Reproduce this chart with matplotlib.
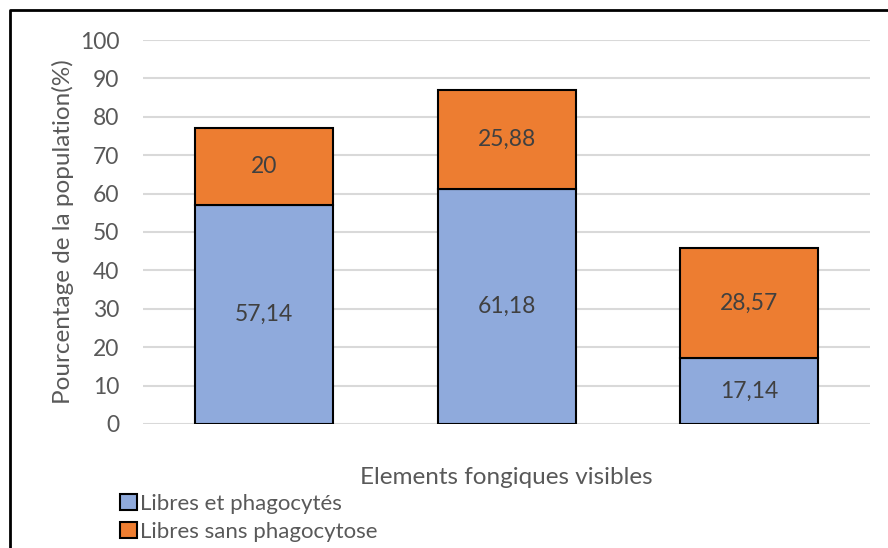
import matplotlib
matplotlib.use('Agg')
from matplotlib import pyplot as plt
from matplotlib.patches import Patch
from matplotlib.lines import Line2D
import numpy as np

categories = ['', '', '']
series_names = ['Libres et phagocytés', 'Libres sans phagocytose']
libres_phago = [57.14, 61.18, 17.14]
libres_sans = [20, 25.88, 28.57]
labels_phago = ['57,14', '61,18', '17,14']
labels_sans = ['20', '25,88', '28,57']
yticks = [0, 10, 20, 30, 40, 50, 60, 70, 80, 90, 100]

plt.rcParams['font.family'] = ['Lato', 'DejaVu Sans']
txt = '#595959'
blue = '#8FAADC'
orange = '#ED7D31'
fs = 16.5

fig = plt.figure(figsize=(8.88, 5.48), dpi=100)
ax = fig.add_axes([0.161, 0.2263, 0.819, 0.7007])

x = np.arange(len(categories))
b1 = ax.bar(x, libres_phago, width=0.57, color=blue, edgecolor='black', linewidth=1.5, zorder=3)
b2 = ax.bar(x, libres_sans, width=0.57, bottom=libres_phago, color=orange, edgecolor='black', linewidth=1.5, zorder=3)
ax.bar_label(b1, labels=labels_phago, label_type='center', fontsize=fs, color='#404040')
ax.bar_label(b2, labels=labels_sans, label_type='center', fontsize=fs, color='#404040')

ax.set_xlim(-0.5, 2.5)
ax.set_ylim(0, 100)
ax.set_yticks(yticks)
ax.set_xticks([])
ax.yaxis.grid(True, color='#d9d9d9', linewidth=1.5, zorder=0)
ax.set_axisbelow(True)
for s in ax.spines.values():
    s.set_visible(False)
ax.tick_params(axis='y', length=0, pad=17, labelsize=fs, labelcolor=txt)
ax.set_ylabel('Pourcentage de la population(%)', fontsize=17.5, color=txt, labelpad=4)
ax.set_xlabel('Elements fongiques visibles', fontsize=17.5, color=txt, labelpad=31)

handles = [Patch(facecolor=blue, edgecolor='black', linewidth=1.5),
           Patch(facecolor=orange, edgecolor='black', linewidth=1.5)]
fig.legend(handles, series_names, loc='lower left', bbox_to_anchor=(0.125, -0.005),
           frameon=False, fontsize=16, labelcolor=txt, handlelength=0.75, handleheight=0.75,
           handletextpad=0.15, labelspacing=0.35, borderaxespad=0)

# outer frame of the chart (left and top edges visible)
fig.add_artist(Line2D([0.011, 0.011, 1.0], [0.0, 0.981, 0.981], transform=fig.transFigure,
                      color='black', linewidth=2))

plt.savefig('out.png', dpi=100)
